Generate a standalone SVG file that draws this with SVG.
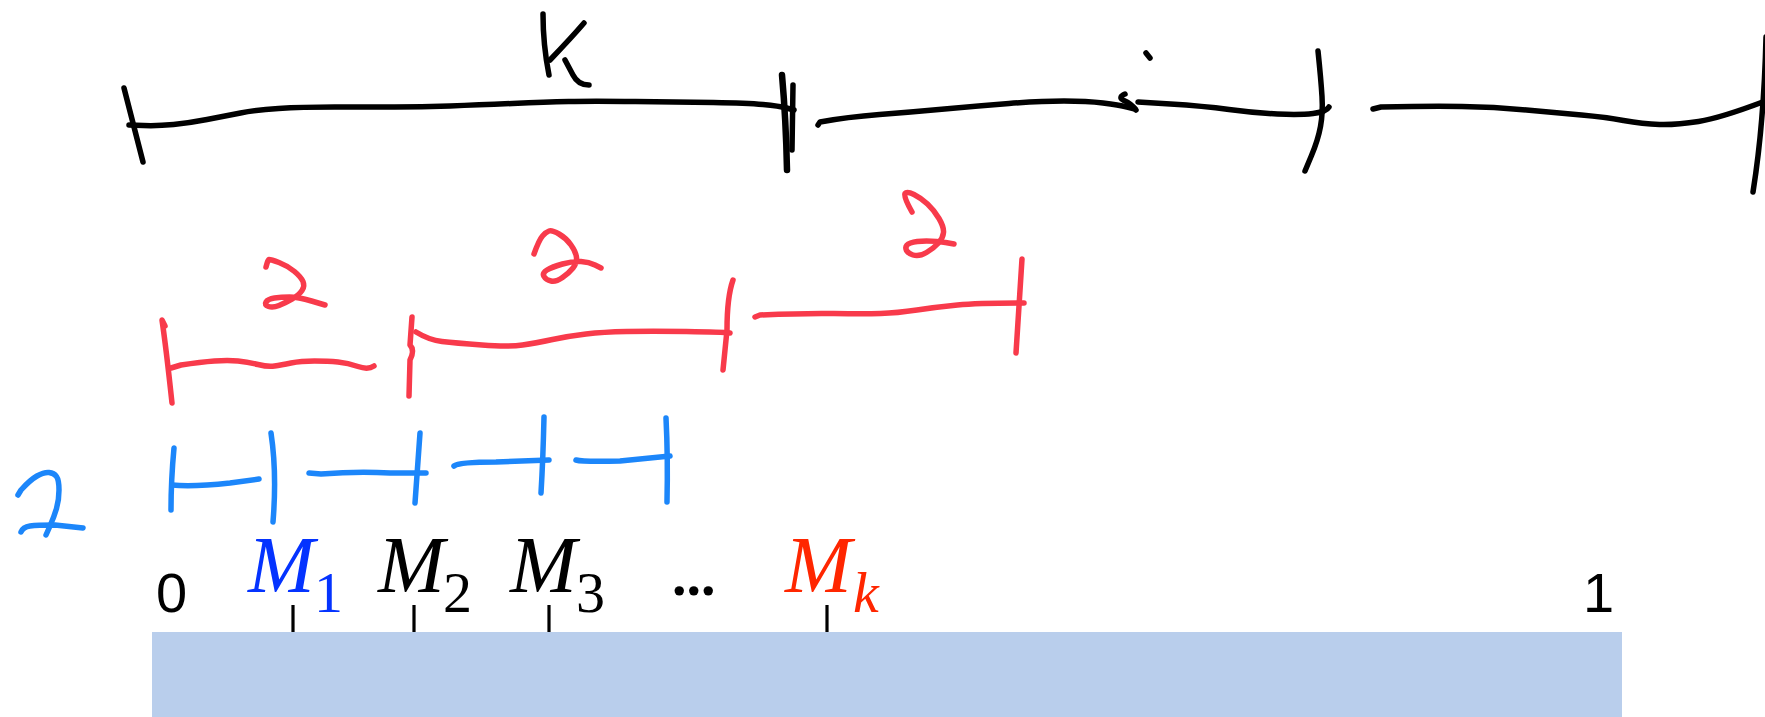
<svg xmlns="http://www.w3.org/2000/svg" width="1765" height="717" viewBox="0 0 1765 717">
<style>
.ink{fill:none;stroke-linecap:round;stroke-linejoin:round;stroke-width:5.5}
.k{stroke:#000}
.r{stroke:#F83A4B}
.b{stroke:#1C86FA}
.tick{stroke:#000;stroke-width:3.2}
.num{font-family:"Liberation Sans",Arial,sans-serif;font-size:56px;fill:#000}
.dots{font-family:"Liberation Serif","Times New Roman",serif;font-weight:bold;font-size:58px;fill:#000}
.m{font-family:"Liberation Serif","Times New Roman",serif;font-style:italic;font-size:80px}
.sub{font-family:"Liberation Serif","Times New Roman",serif;font-size:58px}
</style>
<rect width="1765" height="717" fill="#fff"/>
<g id="black-sketch" class="ink k">
<path d="M543,14 C543,35 545,55 549,75"/>
<path d="M550,60 Q572,37 584,23"/>
<path d="M565,60 L573,75 Q578,85 589,85"/>
<path d="M124,88 L143,162"/>
<path d="M129,125 L143.5,125.5 Q158,126 173.5,124.5 Q189,123 207,119.5 Q225,116 240.5,113 Q256,110 278.5,108.5 Q301,107 334.5,107 Q368,107 394.5,107 Q421,107 450,106 Q479,105 512.5,103.5 Q546,102 568.5,101.5 Q591,101 635.5,101.5 Q680,102 713.5,102.5 Q747,103 763,104.5 Q779,106 786.5,108 L794,110"/>
<path d="M782,75 Q786,120 787,170" stroke-width="6.5"/>
<path d="M793,85 L792,150"/>
<path d="M818,125 L820,122 Q847,117 879.5,114.5 Q912,112 944.5,109 Q977,106 1009,103.5 Q1041,101 1064,101 Q1087,101 1103,103 Q1119,105 1127,107 L1135,109"/>
<path d="M1125,94 Q1118,97 1123,100 Q1132,104 1136,110"/>
<path d="M1138,102 L1170.5,104 Q1203,106 1229,109.5 Q1255,113 1277.5,114 Q1300,115 1313,113.5 Q1326,112 1329,107"/>
<path d="M1146,53 L1150,58"/>
<path d="M1318,51 Q1321,80 1322,96.5 Q1323,113 1320.5,126.5 Q1318,140 1311.5,155.5 L1305,171"/>
<path d="M1373,109 L1381,107 Q1430,106 1462,106.5 Q1494,107 1526.5,110 Q1559,113 1581.5,115 Q1604,117 1623.5,120.5 Q1643,124 1659.5,124.5 Q1676,125 1698.5,121.5 Q1721,118 1768,100"/>
<path d="M1766,37 Q1764,123 1753,192"/>
</g>
<g id="red-sketch" class="ink r">
<path d="M266,267 L267,263.5 Q268,260 269,259.5 Q270,259 279,262.5 Q288,266 294.5,271.5 Q301,277 303,281.5 Q305,286 302,290.5 Q299,295 292,299 Q285,303 279,305.5 Q273,308 268.5,306.5 Q264,305 266,302 Q268,299 274.5,298 Q281,297 289.5,297 Q298,297 311.5,301 L325,305"/>
<path d="M534,254 Q539,240 542.5,236 Q546,232 549,231 Q552,230 559,234 Q566,238 571,245 Q576,252 576.5,257.5 Q577,263 573,268 Q569,273 562.5,277.5 Q556,282 551,281 Q546,280 544,276.5 Q542,273 547,270 Q552,267 562.5,264 Q573,261 581,261.5 Q589,262 595,265 L601,268"/>
<path d="M912,212 Q903,196 905,193.5 Q907,191 914,194.5 Q921,198 927.5,204 Q934,210 939,218.5 Q944,227 943.5,232.5 Q943,238 938.5,243 Q934,248 926.5,252.5 Q919,257 913,255 Q907,253 906,249 Q905,245 910.5,243 Q916,241 926.5,241 Q937,241 945.5,242.5 L954,244"/>
<path d="M165,326 L162,320 Q166,347 172,403"/>
<path d="M171,368 L181,365 Q201,362 214.5,361 Q228,360 238,361 Q248,362 258,364.5 Q268,367 274.5,366 Q281,365 291,363 Q301,361 314.5,361 Q328,361 338,362 Q348,363 358,366.5 Q368,370 374,366"/>
<path d="M412,317 L410,345 Q415,350 410,360 L409,396"/>
<path d="M416,332 Q429,340 442,341.5 Q455,343 482,345 Q509,347 522.5,345 Q536,343 552.5,339.5 Q569,336 586,334 Q603,332 626.5,331.5 Q650,331 686.5,331.5 Q723,332 730,333"/>
<path d="M733,280 Q727,297 727,330 L723,370"/>
<path d="M755,317 L760,315 Q804,313 834,313.5 Q864,314 880.5,313.5 Q897,313 917,310 Q937,307 957.5,305 Q978,303 1024,303"/>
<path d="M1022,259 Q1019,307 1016,353"/>
</g>
<g id="blue-sketch" class="ink b">
<path d="M18,495 L21,490 Q30,480 37,476 Q44,472 49,472.5 Q54,473 56.5,476.5 Q59,480 59,490 Q59,500 56.5,508.5 Q54,517 50,526 L46,535"/>
<path d="M21,532 Q23,527 30,526 Q37,525 55,525 L83,528"/>
<path d="M174,448 Q171,480 171,510"/>
<path d="M172,485 Q193,487 230,483 L259,479"/>
<path d="M271,433 Q277,473 273,522"/>
<path d="M309,473 L321,474 Q358,471 390,473 L426,473"/>
<path d="M420,433 Q417,473 415,503"/>
<path d="M454,466 Q459,462 496,462 L549,460"/>
<path d="M544,417 Q543,460 541,493"/>
<path d="M576,460 Q583,462 620,461 L670,456"/>
<path d="M666,418 Q668,457 667,502"/>
</g>
<g id="axis">
<rect x="152" y="632" width="1470" height="85" fill="#B9CEEC"/>
<line class="tick" x1="293" y1="605" x2="293" y2="632"/>
<line class="tick" x1="414" y1="605" x2="414" y2="632"/>
<line class="tick" x1="549" y1="605" x2="549" y2="632"/>
<line class="tick" x1="827" y1="605" x2="827" y2="632"/>
<text class="num" x="156" y="612">0</text>
<text class="num" x="1583" y="612">1</text>
<text x="248" y="592" class="m" fill="#0433FF">M</text>
<text x="314" y="612" class="sub" fill="#0433FF">1</text>
<text x="378" y="592" class="m" fill="#000">M</text>
<text x="443" y="612" class="sub" fill="#000">2</text>
<text x="510" y="592" class="m" fill="#000">M</text>
<text x="576" y="612" class="sub" fill="#000">3</text>
<text class="dots" x="672" y="595">...</text>
<text x="785" y="592" class="m" fill="#FF2600">M</text>
<text x="853" y="612" class="sub" style="font-style:italic" fill="#FF2600">k</text>
</g>
</svg>
